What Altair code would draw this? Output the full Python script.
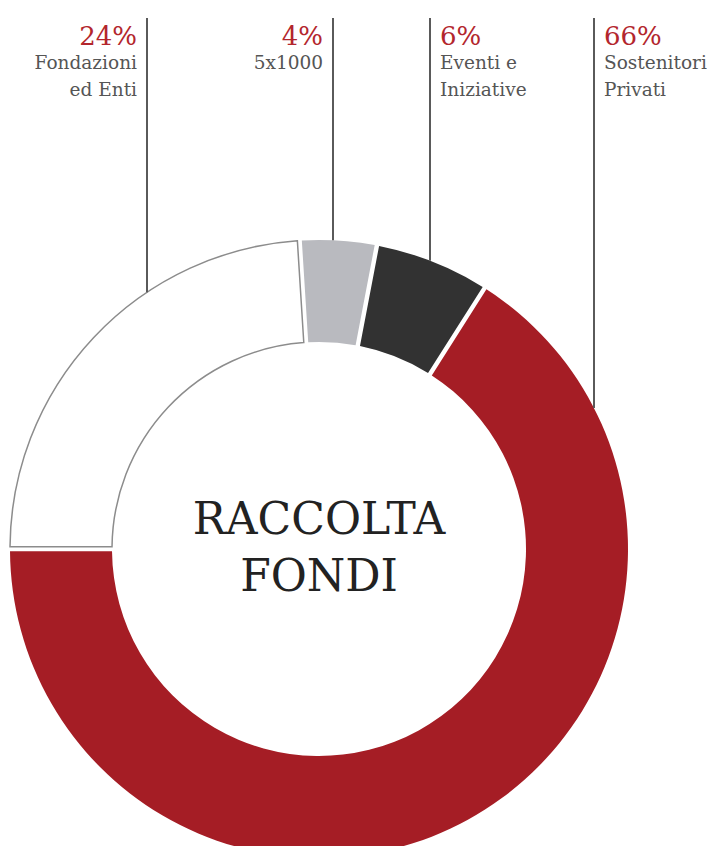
import math
import altair as alt
import pandas as pd

# ---- data ----
categories = ["Fondazioni ed Enti", "5x1000", "Eventi e Iniziative", "Sostenitori Privati"]
name_lines = [["Fondazioni", "ed Enti"], ["5x1000"], ["Eventi e", "Iniziative"], ["Sostenitori", "Privati"]]
values = [24, 4, 6, 66]
center_title = ["RACCOLTA", "FONDI"]

# ---- styling / layout ----
colors = ["#ffffff", "#b9babf", "#323232", "#a51d25"]
W, H = 699, 860
CX, CY = 311, 541
R_OUT, R_IN = 309, 207
LEADER_X = [139, 325, 422, 586]
LEADER_TOP = 10
SIDE = ["right", "right", "left", "left"]
FONT = "DejaVu Serif"

df = pd.DataFrame({
    "category": categories,
    "value": values,
    "order": list(range(len(categories))),
})

lab = pd.DataFrame({
    "category": categories,
    "pct": [f"{v}%" for v in values],
    "name": name_lines,
    "side": SIDE,
    "lx": LEADER_X,
})
lab["ly1"] = LEADER_TOP
lab["ly2"] = [CY - math.sqrt(R_OUT ** 2 - (x - CX) ** 2) for x in LEADER_X]
lab["tx"] = [x - 10 if s == "right" else x + 10 for x, s in zip(LEADER_X, SIDE)]

arc = alt.Chart(df).mark_arc(
    outerRadius=R_OUT, innerRadius=R_IN, padAngle=0.012, x=CX, y=CY, strokeWidth=1.5
).encode(
    theta=alt.Theta("value:Q", stack=True,
                    scale=alt.Scale(range=[1.5 * math.pi, 3.5 * math.pi])),
    order=alt.Order("order:Q"),
    color=alt.Color("category:N", scale=alt.Scale(domain=categories, range=colors), legend=None),
    stroke=alt.condition(alt.datum.category == categories[0], alt.value("#8c8c8c"),
                         alt.value("transparent")),
)

leaders = alt.Chart(lab).mark_rule(color="#5a5a5a", strokeWidth=2).encode(
    x=alt.X("lx:Q", scale=None),
    y=alt.Y("ly1:Q", scale=None),
    y2="ly2:Q",
)

def text_layers(align):
    base = alt.Chart(lab).transform_filter(alt.datum.side == align)
    pct = base.mark_text(align=align, baseline="alphabetic", font=FONT, fontSize=26,
                         color="#b3262d").encode(
        x=alt.X("tx:Q", scale=None), y=alt.value(37), text="pct:N")
    name = base.mark_text(align=align, baseline="alphabetic", font=FONT, fontSize=18.5,
                          lineHeight=27, color="#555555").encode(
        x=alt.X("tx:Q", scale=None), y=alt.value(61), text="name")
    return pct + name

center = alt.Chart(pd.DataFrame({"t": [center_title]})).mark_text(
    x=CX, y=CY - 28, align="center", baseline="middle", font=FONT, fontSize=44,
    lineHeight=57, color="#222222"
).encode(text="t")

chart = alt.layer(arc, leaders, text_layers("right"), text_layers("left"), center).properties(
    width=W, height=H, padding=0, autosize=alt.AutoSizeParams(type="none"),
).configure_view(stroke=None)

chart.save("out.html", embed_options={"renderer": "svg", "actions": False})
